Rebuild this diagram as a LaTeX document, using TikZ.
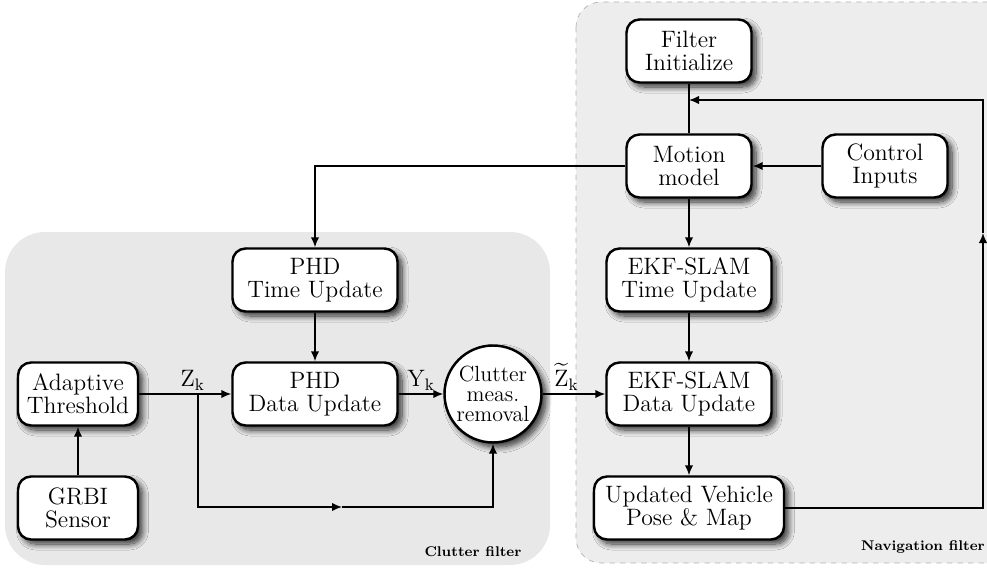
\documentclass[tikz,border=0pt]{standalone}
\usepackage{amsmath}
\usetikzlibrary{positioning,arrows.meta,shadows.blur}
\tikzset{
  flow/.style={-{Latex[length=2mm,width=1.7mm]}, line width=0.9pt},
  plain/.style={line width=0.9pt},
  shade/.style={blur shadow={shadow xshift=0.9mm, shadow yshift=-0.9mm, shadow blur radius=1.2mm, shadow blur steps=10, shadow opacity=80}},
  block/.style={draw, rounded corners=2.6mm, line width=1.4pt, fill=white, align=center,
    minimum height=1.26cm, inner sep=1pt,
    font=\fontsize{13.5}{13}\selectfont, shade},
  smallbox/.style={block, minimum width=2.5cm},
  widebox/.style={block, minimum width=3.3cm},
  removal/.style={draw, circle, line width=1.4pt, fill=white, align=center,
    minimum size=1.94cm, inner sep=0pt, font=\fontsize{12.5}{11.5}\selectfont, shade},
  sig/.style={font=\fontsize{13.5}{13}\selectfont, inner sep=1.5pt},
  regionlabel/.style={font=\footnotesize\bfseries}
}

\begin{document}
\begin{tikzpicture}
  \useasboundingbox (0,0) rectangle (19.74,-11.46);
  % regions
  \fill[black!9, rounded corners=0.8cm] (0.1,-4.64) rectangle (11.0,-11.3);
  \begin{scope}
    \clip (0,0) rectangle (19.74,-11.46);
    \filldraw[fill=black!7, draw=black!30, dashed, rounded corners=0.5cm] (11.52,-0.04) rectangle (20.6,-11.26);
  \end{scope}
  \node[regionlabel] (clutterlbl) at (9.46,-11.04) {Clutter filter};
  \node[regionlabel] (navlbl) at (18.46,-10.94) {Navigation filter};

  % navigation filter
  \node[smallbox] (init) at (13.78,-1.02) {Filter\\Initialize};
  \node[smallbox] (motion) at (13.78,-3.32) {Motion\\model};
  \node[smallbox] (control) at (17.7,-3.32) {Control\\Inputs};
  \node[widebox] (ekftime) at (13.78,-5.6) {EKF-SLAM\\Time Update};
  \node[widebox] (ekfdata) at (13.78,-7.88) {EKF-SLAM\\Data Update};
  \node[block, minimum width=3.8cm] (pose) at (13.78,-10.16) {Updated Vehicle\\Pose \& Map};

  % clutter filter
  \node[widebox] (phdtime) at (6.3,-5.6) {PHD\\Time Update};
  \node[widebox] (phddata) at (6.3,-7.88) {PHD\\Data Update};
  \node[block, minimum width=2.4cm] (adapt) at (1.56,-7.88) {Adaptive\\Threshold};
  \node[block, minimum width=2.4cm] (grbi) at (1.56,-10.16) {GRBI\\Sensor};
  \node[removal] (clutter) at (9.86,-7.88) {Clutter\\meas.\\removal};

  \coordinate (zj) at (3.96,-7.88);
  \coordinate (zmid) at (6.84,-10.14);
  \coordinate (fbmid) at (19.66,-4.66);
  \coordinate (fbtop) at (13.78,-2.0);

  % connectors
  \draw[plain] (init) -- (motion);
  \draw[flow] (control) -- (motion);
  \draw[flow] (motion) -- (ekftime);
  \draw[flow] (ekftime) -- (ekfdata);
  \draw[flow] (ekfdata) -- (pose);
  \draw[flow] (pose.east) -| (fbmid);
  \draw[flow] (fbmid) |- (fbtop);
  \draw[flow] (motion.west) -| (phdtime.north);
  \draw[flow] (phdtime) -- (phddata);
  \draw[flow] (grbi) -- (adapt);
  \draw[flow] (adapt) -- node[sig, pos=0.58, above] {Z\textsubscript{k}} (phddata);
  \draw[flow] (zj) |- (zmid);
  \draw[flow] (zmid) -| (clutter.south);
  \draw[flow] (phddata) -- node[sig, pos=0.5, above] {Y\textsubscript{k}} (clutter);
  \draw[flow] (clutter) -- node[sig, pos=0.38, above] {$\widetilde{\text{Z}}_{\text{k}}$} (ekfdata);
\end{tikzpicture}
\end{document}
